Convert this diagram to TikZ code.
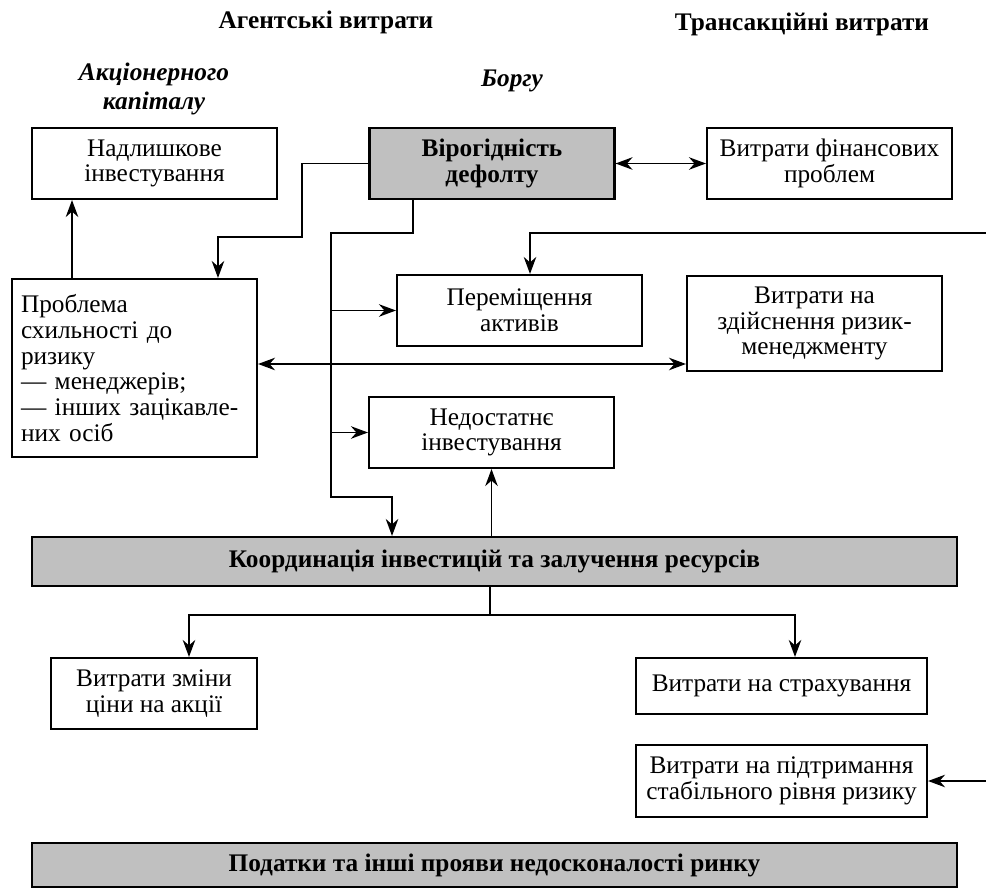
\documentclass[tikz,border=0pt]{standalone}
\usepackage{fontspec}
\setmainfont{Liberation Serif}
\usetikzlibrary{arrows.meta}
\definecolor{boxgray}{HTML}{C0C0C0}

\begin{document}
\begin{tikzpicture}[x=0.02cm, y=-0.02cm,
	font=\fontsize{14.4}{14.6}\selectfont,
	>={Stealth[length=3.4mm,width=2.5mm,inset=1.1mm]},
	box/.style={draw, line width=1.2pt, align=center, inner sep=0pt,
		minimum width=4.9cm, minimum height=1.42cm},
	greybox/.style={box, fill=boxgray, font=\fontsize{14.4}{14.6}\selectfont\bfseries},
	conn/.style={line width=1.1pt},
	head/.style={font=\fontsize{14.4}{14.6}\selectfont\bfseries, align=center},
	subhead/.style={font=\fontsize{14.4}{16.5}\selectfont\bfseries\itshape, align=center}]
	\useasboundingbox (0,0) rectangle (986,888);
	
	% headings
	\node[head] (agent) at (326,22) {Агентські витрати};
	\node[head] (trans) at (802,24) {Трансакційні витрати};
	\node[subhead] (equity) at (154,89) {Акціонерного\\капіталу};
	\node[subhead] (debt) at (512,81) {Боргу};
	
	% boxes
	\node[box] (excess) at (154.5,163.5) {Надлишкове\\інвестування};
	\node[greybox] (default) at (492,163.5) {Вірогідність\\дефолту};
	\node[box] (distress) at (829.5,163.5) {Витрати фінансових\\проблем};
	\node[box, align=left, text width=4.54cm, inner xsep=0.18cm, minimum height=3.56cm]
		(riskpb) at (134.5,368) {Проблема\\схильності до\\ризику\\— менеджерів;\\— інших зацікавле-\\них осіб};
	\node[box] (shift) at (519.5,310.5) {Переміщення\\активів};
	\node[box, minimum width=5.1cm, minimum height=1.9cm] (riskmgmt) at (814.5,323.5)
		{Витрати на\\здійснення ризик-\\менеджменту};
	\node[box] (under) at (491.5,432.5) {Недостатнє\\інвестування};
	\node[greybox, minimum width=18.5cm, minimum height=0.98cm] (coord) at (494.5,561.5)
		{Координація інвестицій та залучення ресурсів};
	\node[box, minimum width=4.12cm] (price) at (154,693.5) {Витрати зміни\\ціни на акції};
	\node[box, minimum width=5.82cm, minimum height=1.12cm] (insure) at (781.5,686)
		{Витрати на страхування};
	\node[box, minimum width=5.82cm, minimum height=1.44cm] (stable) at (781.5,781)
		{Витрати на підтримання\\стабільного рівня ризику};
	\node[greybox, minimum width=18.5cm, minimum height=0.88cm] (taxes) at (494.5,865)
		{Податки та інші прояви недосконалості ринку};
	
	% bends and free ends
	\coordinate (j1) at (302,237);
	\coordinate (j2) at (331,233);
	\coordinate (j3) at (331,497);
	\coordinate (j4) at (490,615);
	\coordinate (e1) at (986,233);
	\coordinate (e2) at (986,781);
	
	% connectors
	\draw[conn,->] ([xshift=-1.25cm]riskpb.north) coordinate (p1) -- (p1 |- excess.south);
	\draw[conn,<->] (default.east) -- (distress.west);
	\draw[conn,->] (default.west) -| (j1) -| ([xshift=1.67cm]riskpb.north);
	\draw[conn,->] ([xshift=-1.58cm]default.south) |- (j2) -- (j3) -| ([xshift=-2.05cm]coord.north);
	\draw[conn,->] (j2 |- shift.west) -- (shift.west);
	\draw[conn,->] (j2 |- under.west) -- (under.west);
	\draw[conn,->] (coord.north -| under.south) -- (under.south);
	\draw[conn,<->] ([yshift=-0.81cm]riskmgmt.west) coordinate (r1) -- (r1 -| riskpb.east);
	\draw[conn,->] (e1) -| ([xshift=0.21cm]shift.north);
	\draw[conn,->] (e2) -- (stable.east);
	\draw[conn] (coord.south -| j4) -- (j4);
	\draw[conn,->] (j4) -| ([xshift=0.7cm]price.north);
	\draw[conn,->] (j4) -| ([xshift=0.27cm]insure.north);
\end{tikzpicture}
\end{document}
